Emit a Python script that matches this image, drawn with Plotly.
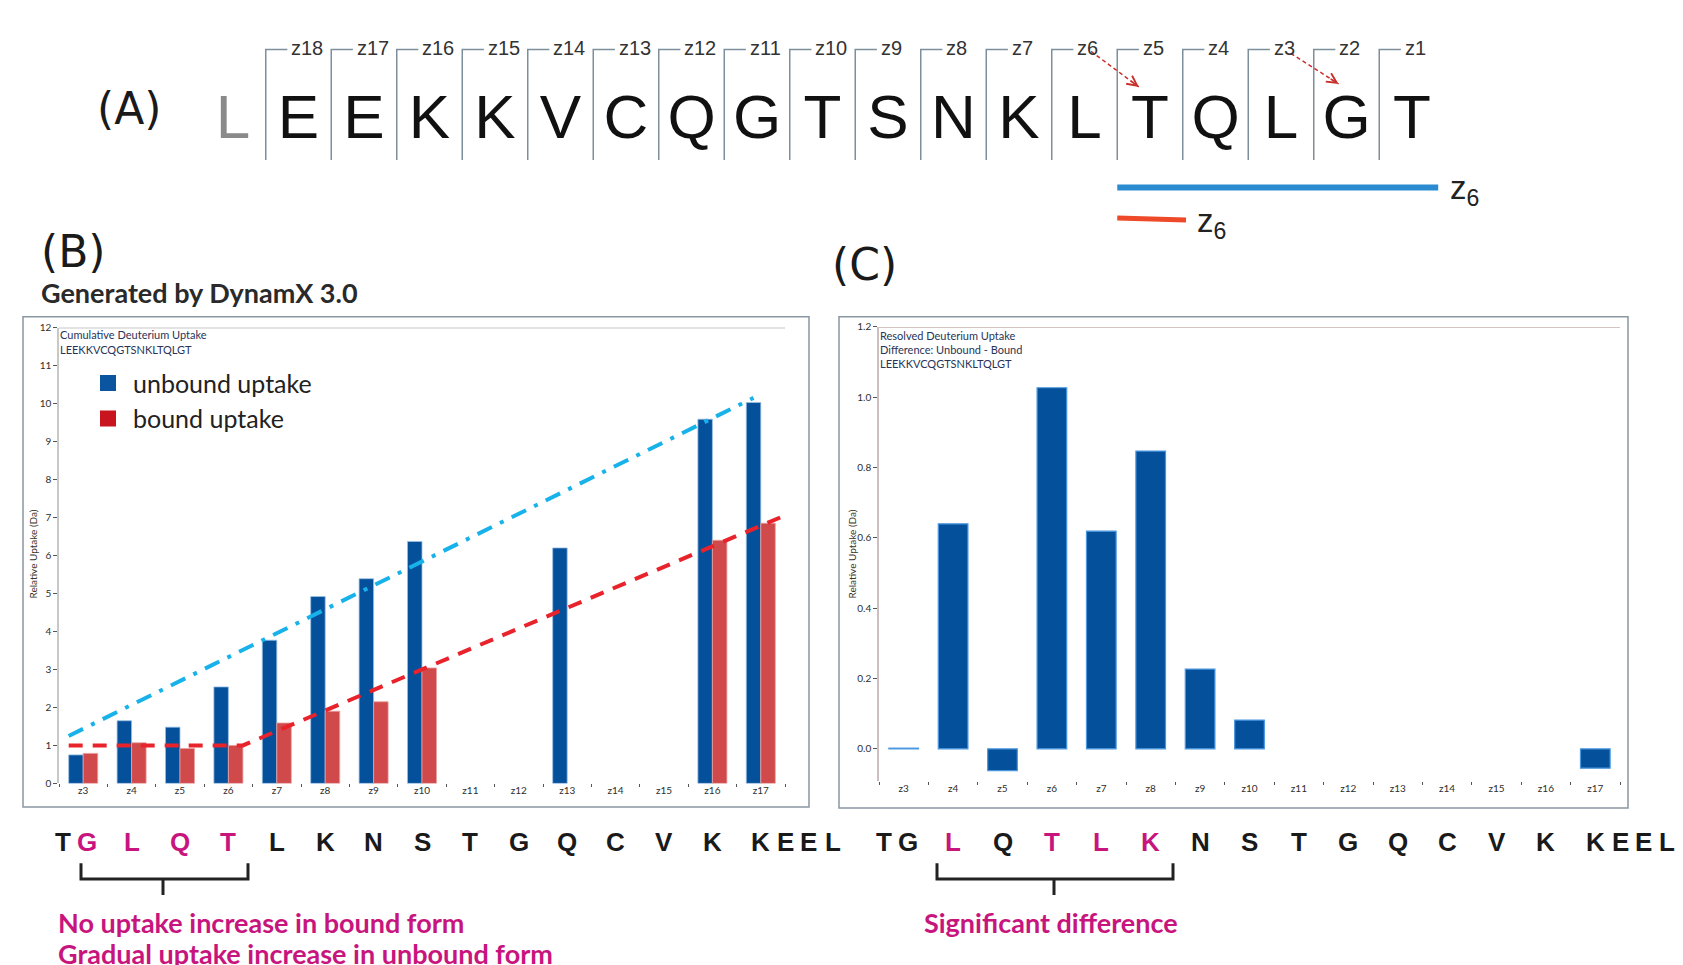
import plotly.graph_objects as go

W, H = 1683, 965


def px(x):
    return x / W


def py(y):
    return 1 - y / H


# ---------------- data ----------------
peptide = "LEEKKVCQGTSNKLTQLGT"
z_fragments = ["z18", "z17", "z16", "z15", "z14", "z13", "z12", "z11", "z10",
               "z9", "z8", "z7", "z6", "z5", "z4", "z3", "z2", "z1"]

ions = ["z3", "z4", "z5", "z6", "z7", "z8", "z9", "z10", "z11", "z12",
        "z13", "z14", "z15", "z16", "z17"]
unbound_uptake = [0.75, 1.65, 1.48, 2.54, 3.77, 4.92, 5.39, 6.37, None, None,
                  6.20, None, None, 9.59, 10.03]
bound_uptake = [0.79, 1.07, 0.92, 1.00, 1.59, 1.90, 2.15, 3.04, None, None,
                None, None, None, 6.40, 6.85]
difference = [0.002, 0.64, -0.062, 1.027, 0.619, 0.847, 0.227, 0.082, None, None,
              None, None, None, None, -0.055]

# guide lines drawn over the cumulative plot (ion index, Da)
unbound_trend_x = [-0.3, 13.85]
unbound_trend_y = [1.25, 10.15]
bound_trend_x = [-0.3, 3.3, 14.4]
bound_trend_y = [1.0, 1.0, 7.0]

# ETD fragment bars under the sequence (residue index)
z6_unbound_span = [13.5, 18.4]
z6_bound_span = [13.5, 14.55]

# hydrogen scrambling arrows (tail, head) in residue index / row units
arrow_tails = [(13.1, 45), (16.15, 47)]
arrow_heads = [(13.83, 81), (16.88, 78)]

reversed_seq = peptide[::-1]
highlight_b = {1, 2, 3, 4}
highlight_c = {2, 4, 5, 6}

BLUE = "#05509a"
RED = "#d04a4c"
MAGENTA = "#c8157e"
xi = list(range(len(ions)))

fig = go.Figure()

# ---------------- panel B: cumulative uptake ----------------
fig.add_bar(x=xi, y=unbound_uptake, xaxis="x", yaxis="y", showlegend=False,
            marker=dict(color=BLUE, line=dict(color="#9cc0e6", width=0.8)))
fig.add_bar(x=xi, y=bound_uptake, xaxis="x", yaxis="y", showlegend=False,
            marker=dict(color=RED, line=dict(color="#e8a0a0", width=0.8)))
fig.add_scatter(x=unbound_trend_x, y=unbound_trend_y, xaxis="x", yaxis="y",
                mode="lines", showlegend=False,
                line=dict(color="#18b2ea", width=4, dash="16px,9px,4px,9px"))
fig.add_scatter(x=bound_trend_x, y=bound_trend_y, xaxis="x", yaxis="y",
                mode="lines", showlegend=False,
                line=dict(color="#e8232b", width=4, dash="14px,10px"))
fig.add_scatter(x=[None], y=[None], xaxis="x", yaxis="y", mode="markers",
                name="unbound uptake",
                marker=dict(symbol="square", size=20, color="#0b55a0"))
fig.add_scatter(x=[None], y=[None], xaxis="x", yaxis="y", mode="markers",
                name="bound uptake",
                marker=dict(symbol="square", size=20, color="#c8141e"))

# ---------------- panel C: difference ----------------
fig.add_bar(x=xi, y=difference, xaxis="x2", yaxis="y2", showlegend=False,
            marker=dict(color=BLUE, line=dict(color="#4a97e0", width=1.2)))

# ---------------- panel A: sequence schematic ----------------
sep_x, sep_y = [], []
for k in range(len(z_fragments)):
    x = k + 0.5
    sep_x += [x, x, x + 0.33, None]
    sep_y += [155, 43, 43, None]
fig.add_scatter(x=sep_x, y=sep_y, xaxis="x3", yaxis="y3", mode="lines",
                showlegend=False, line=dict(color="#7d8e9c", width=1.5))
fig.add_scatter(x=list(range(len(peptide))), y=[117] * len(peptide),
                xaxis="x3", yaxis="y3", mode="text", text=list(peptide),
                textposition="middle center", showlegend=False, cliponaxis=False,
                textfont=dict(family="Liberation Sans", size=62,
                              color=["#8a8a8a"] + ["#111111"] * (len(peptide) - 1)))
fig.add_scatter(x=z6_unbound_span, y=[183, 183], xaxis="x3", yaxis="y3",
                mode="lines", showlegend=False,
                line=dict(color="#2b8bd0", width=6))
fig.add_scatter(x=z6_bound_span, y=[214, 216], xaxis="x3", yaxis="y3",
                mode="lines", showlegend=False,
                line=dict(color="#ee4a2a", width=5))
for (tx, ty), (hx, hy) in zip(arrow_tails, arrow_heads):
    fig.add_scatter(x=[tx, hx], y=[ty, hy], xaxis="x3", yaxis="y3", mode="lines",
                    showlegend=False,
                    line=dict(color="#c9302c", width=1.5, dash="4px,3px"))

annotations = []
for k, lab in enumerate(z_fragments):
    annotations.append(dict(x=k + 0.5 + 0.36, y=42, xref="x3", yref="y3",
                            text=lab, showarrow=False, xanchor="left",
                            yanchor="middle",
                            font=dict(family="Liberation Sans", size=20,
                                      color="#333333")))
for (tx, ty), (hx, hy) in zip(arrow_tails, arrow_heads):
    annotations.append(dict(x=hx, y=hy, xref="x3", yref="y3",
                            ax=hx - 0.2 * (hx - tx), ay=hy - 0.2 * (hy - ty),
                            axref="x3", ayref="y3", text="", showarrow=True,
                            arrowhead=5, arrowsize=1.3, arrowwidth=1.5,
                            arrowcolor="#c9302c"))
annotations.append(dict(x=z6_unbound_span[1], y=186, xref="x3", yref="y3",
                        xshift=10, text="z<sub>6</sub>", showarrow=False,
                        xanchor="left", yanchor="middle",
                        font=dict(family="Liberation Sans", size=33, color="#222")))
annotations.append(dict(x=z6_bound_span[1] + 0.14, y=219, xref="x3", yref="y3",
                        text="z<sub>6</sub>", showarrow=False, xanchor="left",
                        yanchor="middle",
                        font=dict(family="Liberation Sans", size=33, color="#222")))

# panel letters and headings
for txt, x, y in [("(A)", 95, 103), ("(B)", 39, 248), ("(C)", 830, 261)]:
    annotations.append(dict(x=px(x), y=py(y), xref="paper", yref="paper",
                            text=txt, showarrow=False, xanchor="left",
                            yanchor="middle",
                            font=dict(family="DejaVu Sans", size=44, color="#1a1a1a")))
annotations.append(dict(x=px(39), y=py(289), xref="paper", yref="paper",
                        text="<b>Generated by DynamX 3.0</b>", showarrow=False,
                        xanchor="left", yanchor="middle",
                        font=dict(family="Lato", size=27, color="#2a2a2a")))

# inner chart titles
inner_font = dict(family="Lato", size=11, color="#283458")
for txt, y in [("Cumulative Deuterium Uptake", 332), ("LEEKKVCQGTSNKLTQLGT", 347)]:
    annotations.append(dict(x=px(58), y=py(y), xref="paper", yref="paper",
                            text=txt, showarrow=False, xanchor="left",
                            yanchor="middle", font=inner_font))
for txt, y in [("Resolved Deuterium Uptake", 333), ("Difference: Unbound - Bound", 347),
               ("LEEKKVCQGTSNKLTQLGT", 361)]:
    annotations.append(dict(x=px(878), y=py(y), xref="paper", yref="paper",
                            text=txt, showarrow=False, xanchor="left",
                            yanchor="middle", font=inner_font))
for x in (33, 852):
    annotations.append(dict(x=px(x), y=py(555), xref="paper", yref="paper",
                            text="Relative Uptake (Da)", textangle=-90,
                            showarrow=False, xanchor="center", yanchor="middle",
                            font=dict(family="Lato", size=10, color="#3b3326")))

# residue letters under each ion axis
for xref, hl in (("x", highlight_b), ("x2", highlight_c)):
    for i, aa in enumerate(reversed_seq):
        if i == 0:
            pos, shift = 0, -20
        elif i <= 15:
            pos, shift = i - 1, (4 if i == 1 else 0)
        else:
            pos, shift = 14, [25, 48, 72][i - 16]
        annotations.append(dict(x=pos, y=py(846), xref=xref, yref="paper",
                                xshift=shift, text="<b>%s</b>" % aa,
                                showarrow=False, xanchor="center",
                                yanchor="middle",
                                font=dict(family="Liberation Sans", size=26,
                                          color=MAGENTA if i in hl else "#1a1a1a")))

msg_font = dict(family="Lato", size=27, color=MAGENTA)
for txt, x, y in [("<b>No uptake increase in bound form</b>", 56, 928),
                  ("<b>Gradual uptake increase in unbound form</b>", 56, 959),
                  ("<b>Significant difference</b>", 922, 928)]:
    annotations.append(dict(x=px(x), y=py(y), xref="paper", yref="paper",
                            text=txt, showarrow=False, xanchor="left",
                            yanchor="middle", font=msg_font))

# ---------------- shapes: frames, top rules, brackets ----------------
shapes = [
    dict(type="rect", xref="paper", yref="paper", x0=px(23), x1=px(809),
         y0=py(811), y1=py(314), line=dict(color="#8b97a3", width=1.5)),
    dict(type="rect", xref="paper", yref="paper", x0=px(839), x1=px(1628),
         y0=py(812), y1=py(314), line=dict(color="#8b97a3", width=1.5)),
    dict(type="line", xref="x domain", yref="y", x0=0, x1=1, y0=12, y1=12,
         line=dict(color="#c8c8c8", width=2)),
    dict(type="line", xref="x2 domain", yref="y2", x0=0, x1=1, y0=1.2, y1=1.2,
         line=dict(color="#d4c4c4", width=2)),
]
for x0, x1, xc in [(81, 248, 163), (937, 1173, 1054)]:
    path = "M %f %f L %f %f L %f %f L %f %f M %f %f L %f %f" % (
        px(x0), py(868), px(x0), py(884), px(x1), py(884), px(x1), py(868),
        px(xc), py(884), px(xc), py(900))
    shapes.append(dict(type="path", xref="paper", yref="paper", path=path,
                       line=dict(color="#222222", width=3)))

tick_font = dict(family="Lato", size=10, color="#2e2e2e")
minor_ticks = dict(tickmode="array", tickvals=[i - 0.5 for i in range(16)],
                   ticks="outside", ticklen=3, tickwidth=1, tickcolor="#555")

fig.update_layout(
    width=W, height=H, margin=dict(l=0, r=0, t=0, b=0),
    paper_bgcolor="white", plot_bgcolor="white",
    barmode="group", bargap=0.4, bargroupgap=0,
    showlegend=True,
    legend=dict(x=px(83), xanchor="left", y=py(358), yanchor="top",
                font=dict(family="Lato", size=25, color="#222"),
                itemwidth=40, bgcolor="rgba(0,0,0,0)", tracegroupgap=0),
    xaxis=dict(domain=[px(59), px(785)], range=[-0.5, 14.5], anchor="y",
               tickmode="array", tickvals=xi, ticktext=ions, ticks="",
               showgrid=False, zeroline=False, showline=False,
               tickfont=tick_font, minor=minor_ticks, fixedrange=True),
    yaxis=dict(domain=[py(787), py(325)], range=[0, 12], anchor="x",
               dtick=1, ticks="outside", ticklen=4, tickcolor="#555",
               showgrid=False, zeroline=False, showline=True,
               linecolor="#c8c8c8", linewidth=1.5, tickfont=tick_font),
    xaxis2=dict(domain=[px(879), px(1620)], range=[-0.5, 14.5], anchor="y2",
                tickmode="array", tickvals=xi, ticktext=ions, ticks="",
                showgrid=False, zeroline=False, showline=False,
                tickfont=tick_font, minor=minor_ticks),
    yaxis2=dict(domain=[py(785), py(324.3)], range=[-0.0926, 1.2], anchor="x2",
                tickmode="array", tickvals=[0, 0.2, 0.4, 0.6, 0.8, 1.0, 1.2],
                tickformat=".1f", ticks="outside", ticklen=4, tickcolor="#555",
                showgrid=False, zeroline=False, showline=True,
                linecolor="#cdbfbf", linewidth=1.5, tickfont=tick_font),
    xaxis3=dict(domain=[px(200.25), px(1444.75)], range=[-0.5, 18.5],
                anchor="y3", visible=False),
    yaxis3=dict(domain=[py(240), 1], range=[240, 0], anchor="x3", visible=False),
    annotations=annotations,
    shapes=shapes,
)

fig.write_html("out.html")
